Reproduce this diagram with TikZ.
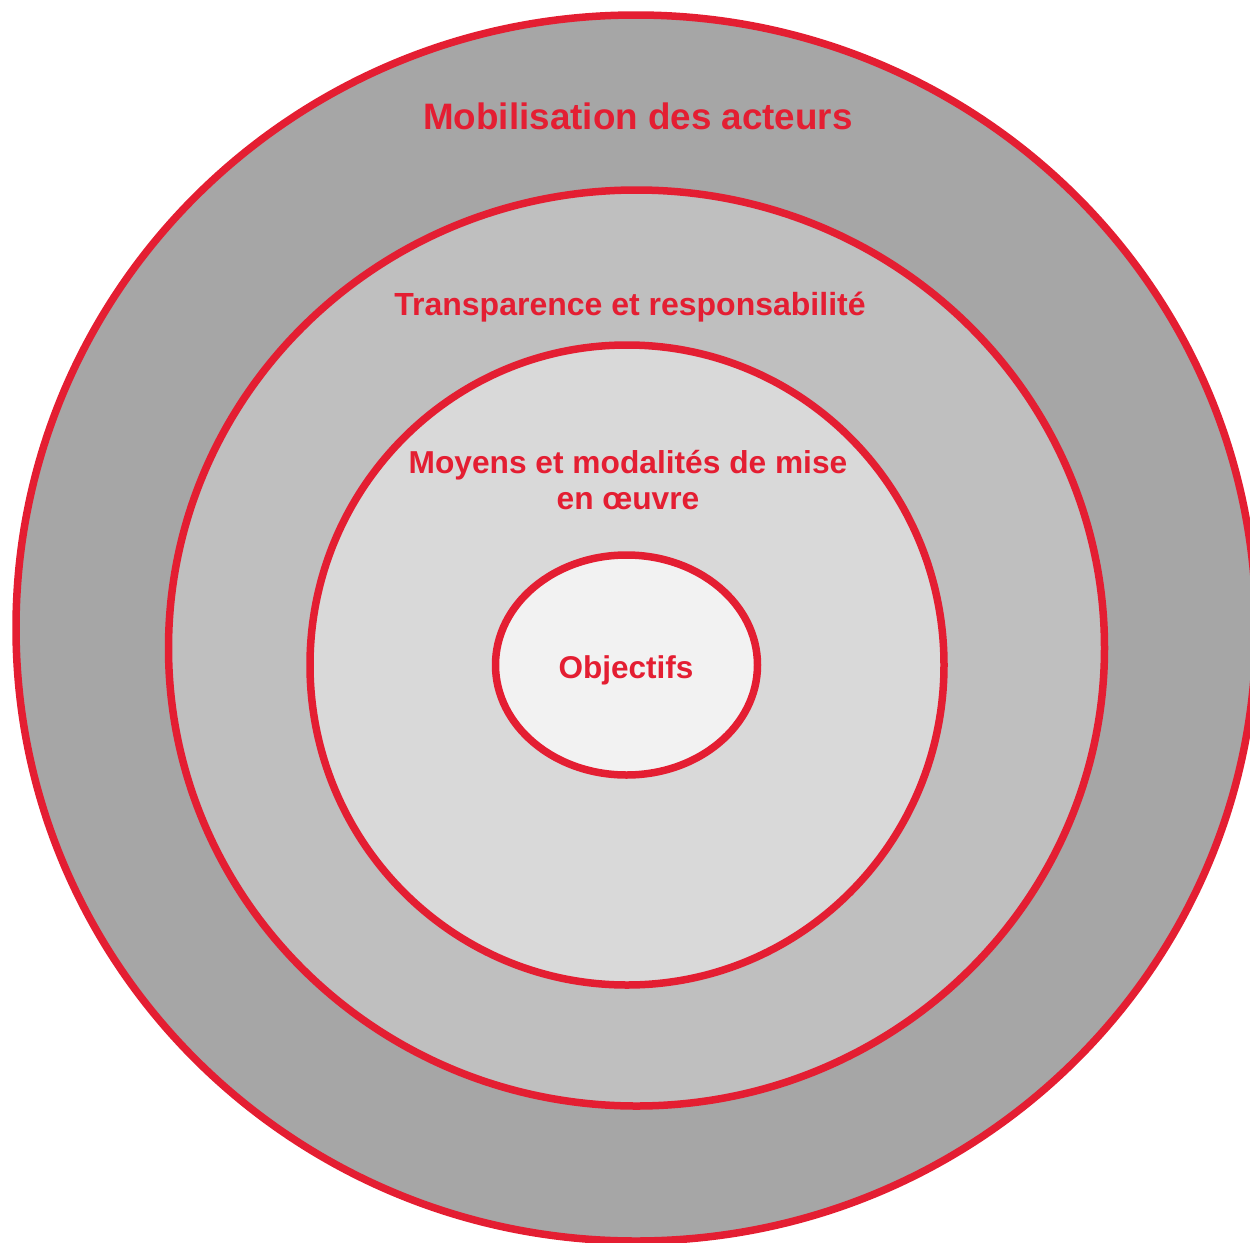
\documentclass[tikz,border=0pt]{standalone}
\usepackage{fontspec}
\setmainfont{Liberation Sans}
\usetikzlibrary{positioning}
\definecolor{ringred}{RGB}{228,30,50}
\definecolor{greyA}{RGB}{166,166,166}
\definecolor{greyB}{RGB}{191,191,191}
\definecolor{greyC}{RGB}{217,217,217}
\definecolor{greyD}{RGB}{242,242,242}

\begin{document}
\begin{tikzpicture}[x=1pt, y=-1pt,
    ring/.style={draw=ringred, line width=7.5pt},
    lbl/.style={text=ringred, align=center, inner sep=0pt, anchor=base}]
    \useasboundingbox (0,0) rectangle (1250,1242) ;
    \clip (0,0) rectangle (1250,1242) ;
    % rings, outside in
    \draw[ring, fill=greyA] (636,628) ellipse (620pt and 613pt) ;
    \draw[ring, fill=greyB] (636.5,648) ellipse (468pt and 458pt) ;
    \draw[ring, fill=greyC] (627,665) ellipse (317pt and 320pt) ;
    \draw[ring, fill=greyD] (626.5,665) ellipse (131pt and 110pt) ;
    % labels
    \node[lbl, font=\bfseries\fontsize{36.8}{44}\selectfont] (acteurs) at (638,129) {Mobilisation des acteurs} ;
    \node[lbl, font=\bfseries\fontsize{32}{38}\selectfont] (transp) at (630,315) {Transparence et responsabilité} ;
    \node[lbl, font=\bfseries\fontsize{31.7}{36}\selectfont] (moyens) at (628,509) {Moyens et modalités de mise\\en œuvre} ;
    \node[lbl, font=\bfseries\fontsize{31.5}{37}\selectfont] (objectifs) at (626,678) {Objectifs} ;
\end{tikzpicture}
\end{document}
